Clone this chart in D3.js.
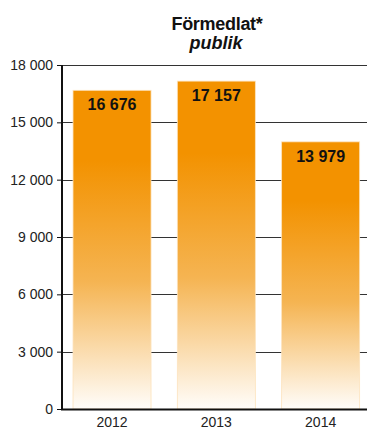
<!DOCTYPE html>
<html>
<head>
<meta charset="utf-8">
<script src="https://cdn.jsdelivr.net/npm/d3@7"></script>
<style>
  body { margin: 0; background: #fff; }
  svg { display: block; font-family: "Liberation Sans", Arial, sans-serif; }
</style>
</head>
<body>
<svg id="chart" width="367" height="432"></svg>
<script>
var years = ["2012", "2013", "2014"];
var values = [16676, 17157, 13979];
var yTicks = [0, 3000, 6000, 9000, 12000, 15000, 18000];
var title = "Förmedlat*";
var subtitle = "publik";

var margin = {top: 65, right: 0, bottom: 23, left: 62},
	width = 367 - margin.left - margin.right,
	height = 432 - margin.top - margin.bottom;

var fmt = function(v) { return d3.format(",")(v).replace(/,/g, " "); };

var svg = d3.select("#chart");

var defs = svg.append("defs");
var grad = defs.append("linearGradient")
	.attr("id", "barGrad")
	.attr("x1", 0).attr("y1", 0).attr("x2", 0).attr("y2", 1);
grad.append("stop").attr("offset", "0").attr("stop-color", "#f39200");
grad.append("stop").attr("offset", "0.22").attr("stop-color", "#f39200");
grad.append("stop").attr("offset", "0.6").attr("stop-color", "#f5b452");
grad.append("stop").attr("offset", "1").attr("stop-color", "#fffdfa");

svg.append("text")
	.attr("x", 217).attr("y", 30)
	.attr("text-anchor", "middle")
	.style("font-size", "18px").style("font-weight", "bold").style("fill", "#111")
	.style("letter-spacing", "-0.3px")
	.text(title);
svg.append("text")
	.attr("x", 216).attr("y", 49)
	.attr("text-anchor", "middle")
	.style("font-size", "18px").style("font-weight", "bold").style("font-style", "italic").style("fill", "#111")
	.text(subtitle);

var g = svg.append("g").attr("transform", "translate(" + margin.left + "," + margin.top + ")");

var x = d3.scaleBand().domain(years).range([0, width])
	.paddingInner(0.252).paddingOuter(0.088).align(0.6);
var y = d3.scaleLinear().domain([0, 18000]).range([height, 0]);

// gridlines
g.append("g").selectAll("line").data(yTicks.slice(1)).enter().append("line")
	.attr("x1", 0).attr("x2", width)
	.attr("y1", function(d) { return Math.round(y(d)) + 0.5; })
	.attr("y2", function(d) { return Math.round(y(d)) + 0.5; })
	.style("stroke", "#333").style("stroke-width", 1);

// bars
g.append("g").selectAll("rect").data(values).enter().append("rect")
	.attr("x", function(d, i) { return x(years[i]); })
	.attr("y", function(d) { return y(d); })
	.attr("width", x.bandwidth())
	.attr("height", function(d) { return height - y(d); })
	.style("fill", "url(#barGrad)")
	.style("stroke", "#fde3bd").style("stroke-width", 0.8);

// value labels
g.append("g").selectAll("text").data(values).enter().append("text")
	.attr("x", function(d, i) { return x(years[i]) + x.bandwidth() / 2; })
	.attr("y", function(d) { return y(d) + 20; })
	.attr("text-anchor", "middle")
	.style("font-size", "16px").style("font-weight", "bold").style("fill", "#111")
	.text(fmt);

// y axis
var yAxis = g.append("g")
	.call(d3.axisLeft(y).tickValues(yTicks).tickSize(5).tickPadding(4).tickFormat(fmt));
yAxis.select(".domain").remove();
yAxis.selectAll(".tick line").style("stroke", "#111");
yAxis.selectAll(".tick text").style("font-size", "14px").style("fill", "#222").style("font-family", "Liberation Sans, Arial, sans-serif");
g.append("line")
	.attr("x1", 0).attr("x2", 0).attr("y1", 0).attr("y2", height + 1)
	.style("stroke", "#111").style("stroke-width", 2);

// x axis
var xAxis = g.append("g")
	.attr("transform", "translate(0," + height + ")")
	.call(d3.axisBottom(x).tickSize(0).tickPadding(8));
xAxis.select(".domain").remove();
xAxis.selectAll(".tick text").style("font-size", "14px").style("fill", "#222").style("font-family", "Liberation Sans, Arial, sans-serif");
g.append("line")
	.attr("x1", -1).attr("x2", width).attr("y1", height + 0.5).attr("y2", height + 0.5)
	.style("stroke", "#111").style("stroke-width", 2);
</script>
</body>
</html>
